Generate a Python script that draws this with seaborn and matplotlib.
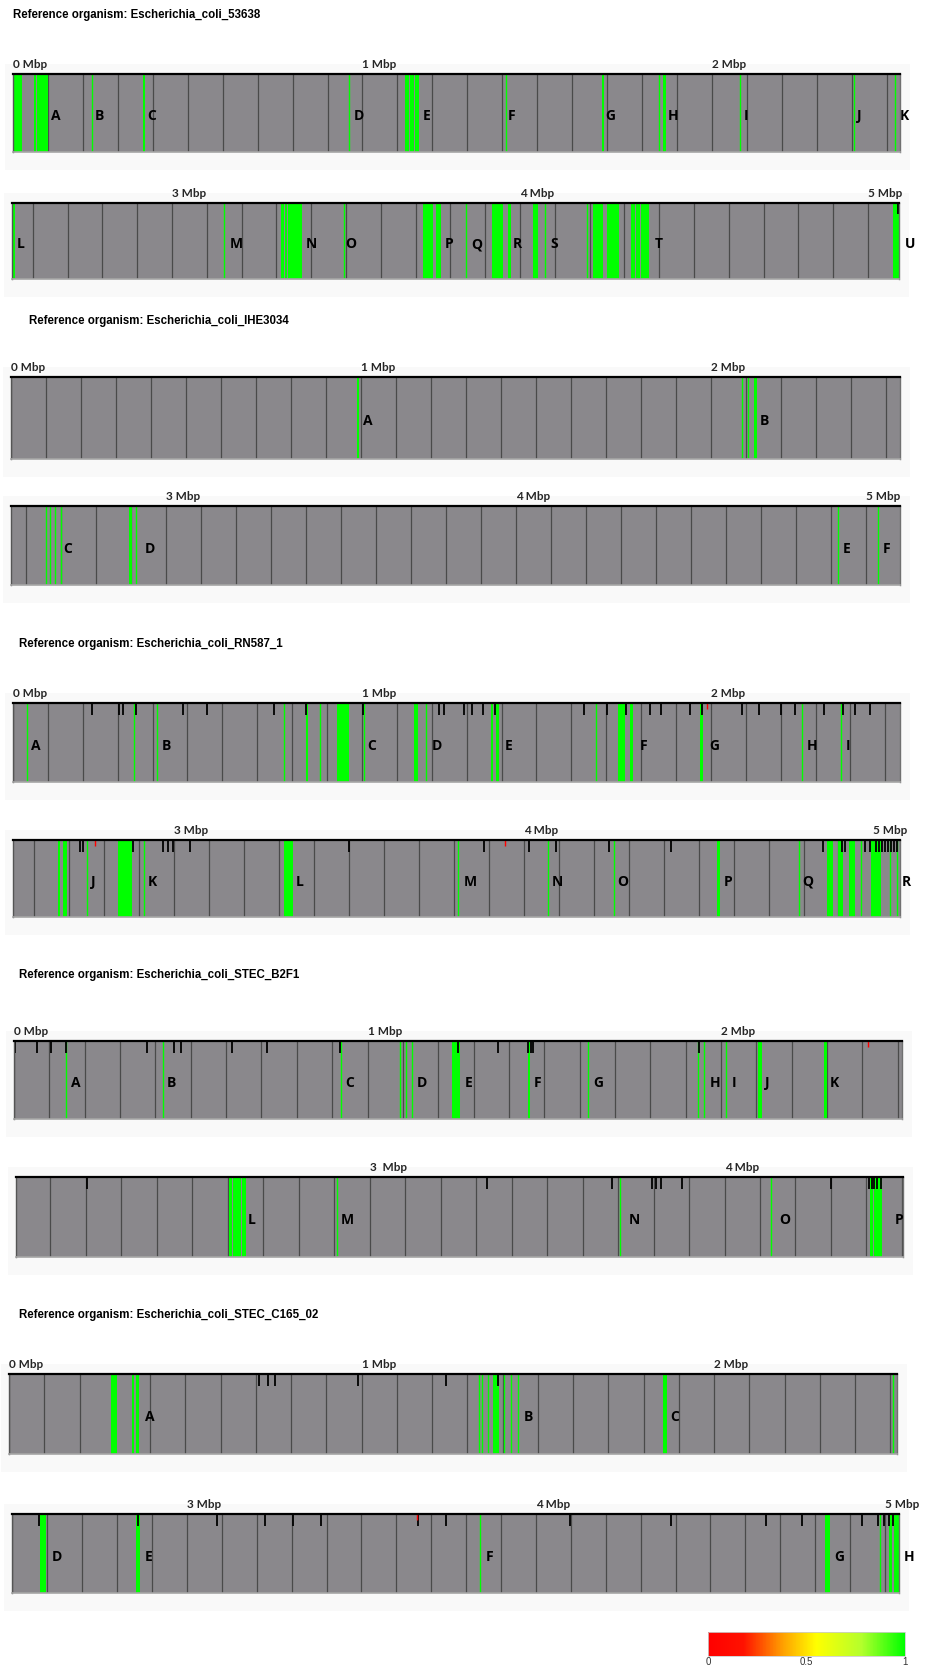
import matplotlib
matplotlib.use('Agg')
import matplotlib as mpl
import matplotlib.pyplot as plt
import seaborn as sns
from matplotlib.ticker import MultipleLocator
from matplotlib.colors import LinearSegmentedColormap, Normalize
from matplotlib.patches import Rectangle

W, H = 929, 1670

# ---- data (positions in Mbp) ----
titles = ['Escherichia_coli_53638', 'Escherichia_coli_IHE3034', 'Escherichia_coli_RN587_1',
		  'Escherichia_coli_STEC_B2F1', 'Escherichia_coli_STEC_C165_02']

# 53638
a1_range = (0, 2.538)
a1_ticks = [0, 1, 2]
a1_bands = [(0.001, 0.026), (0.059, 0.066), (0.069, 0.101), (0.371, 0.379), (1.122, 1.134), (1.136, 1.147),
			(1.149, 1.162), (1.685, 1.692), (1.861, 1.868)]
a1_lines = [0.225, 0.962, 1.41, 1.847, 2.08, 2.407, 2.525]
a1_letters = list('ABCDEFGHIJK')
a1_letter_pos = [0.11, 0.233, 0.385, 0.974, 1.172, 1.415, 1.696, 1.873, 2.09, 2.414, 2.536]

a2_range = (2.54, 5.089)
a2_ticks = [3, 4, 5]
a2_bands = [(2.543, 2.549), (3.312, 3.322), (3.325, 3.330), (3.333, 3.374), (3.722, 3.751), (3.759, 3.772),
			(3.92, 3.952), (3.965, 3.973), (4.038, 4.052), (4.209, 4.238), (4.249, 4.283), (4.319, 4.33),
			(4.333, 4.345), (4.348, 4.372), (5.073, 5.088)]
a2_lines = [3.148, 3.495, 3.845, 4.073, 4.193]
a2_letters = list('LMNOPQRSTU')
a2_letter_pos = [2.554, 3.167, 3.385, 3.497, 3.784, 3.861, 3.98, 4.088, 4.386, 5.105]

# IHE3034
b1_range = (0, 2.54)
b1_ticks = [0, 1, 2]
b1_bands = [(0.988, 0.994), (2.122, 2.131)]
b1_lines = [2.09, 2.105]
b1_letters = ['A', 'B']
b1_letter_pos = [1.006, 2.14]

b2_range = (2.557, 5.097)
b2_ticks = [3, 4, 5]
b2_bands = [(2.893, 2.903)]
b2_lines = [2.656, 2.669, 2.684, 2.699, 2.914, 4.921, 5.034]
b2_letters = ['C', 'D', 'E', 'F']
b2_letter_pos = [2.705, 2.94, 4.934, 5.049]

# RN587_1
c1_range = (0, 2.542)
c1_ticks = [0, 1, 2]
c1_bands = [(0.839, 0.846), (0.929, 0.963), (1.148, 1.161), (1.369, 1.376), (1.384, 1.392), (1.734, 1.754),
			(1.768, 1.777), (1.970, 1.976)]
c1_lines = [0.039, 0.347, 0.412, 0.776, 0.881, 1.007, 1.185, 1.672, 2.26, 2.372]
c1_letters = list('ABCDEFGHI')
c1_letter_pos = [0.052, 0.426, 1.016, 1.2, 1.408, 1.797, 1.995, 2.276, 2.387]
c1_marks = [0.0, 0.226, 0.305, 0.316, 0.352, 0.486, 0.557, 0.749, 0.84, 1.004, 1.222, 1.235, 1.292, 1.314,
			1.346, 1.381, 1.636, 1.703, 1.756, 1.825, 1.858, 1.94, 1.974, 2.088, 2.138, 2.2, 2.241, 2.325,
			2.379, 2.414, 2.456]
c1_red = [1.99]

c2_range = (2.539, 5.076)
c2_ticks = [3, 4, 5]
c2_bands = [(2.669, 2.674), (2.683, 2.693), (2.838, 2.879), (3.313, 3.340), (4.552, 4.562), (4.867, 4.883),
			(4.900, 4.914), (4.929, 4.948), (4.993, 5.021)]
c2_lines = [2.75, 2.915, 3.813, 4.07, 4.259, 4.786, 4.965, 5.048, 5.067]
c2_letters = list('JKLMNOPQR')
c2_letter_pos = [2.762, 2.925, 3.349, 3.828, 4.08, 4.268, 4.571, 4.795, 5.081]
c2_marks = [2.731, 2.738, 2.882, 2.969, 2.983, 2.996, 3.044, 3.499, 3.885, 4.016, 4.093, 4.245, 4.421,
			4.857, 4.91, 4.919, 4.977, 4.989, 5.006, 5.015, 5.025, 5.033, 5.042, 5.05, 5.058, 5.066]
c2_red = [2.773, 3.947]

# STEC_B2F1
d1_range = (0, 2.512)
d1_ticks = [0, 1, 2]
d1_bands = [(1.240, 1.262), (1.454, 1.461), (2.104, 2.115), (2.292, 2.299)]
d1_lines = [0.148, 0.422, 0.924, 1.091, 1.108, 1.127, 1.623, 1.935, 1.952, 2.014]
d1_letters = list('ABCDEFGHIJK')
d1_letter_pos = [0.162, 0.431, 0.936, 1.14, 1.275, 1.47, 1.638, 1.969, 2.03, 2.124, 2.308]
d1_marks = [0.002, 0.065, 0.104, 0.148, 0.375, 0.454, 0.472, 0.617, 0.717, 0.922, 1.255, 1.368, 1.455,
			1.462, 1.467, 1.937]
d1_red = [2.417]

d2_range = (2.003, 4.503)
d2_ticks = [3, 4]
d2_bands = [(2.604, 2.612), (2.616, 2.636), (2.639, 2.65), (4.41, 4.418), (4.422, 4.444)]
d2_lines = [2.907, 3.705, 4.13]
d2_letters = list('LMNOP')
d2_letter_pos = [2.657, 2.919, 3.73, 4.153, 4.48]
d2_marks = [2.204, 3.33, 3.682, 3.796, 3.808, 3.82, 3.88, 4.3, 4.408, 4.415, 4.422, 4.43, 4.44]

# STEC_C165_02
e1_range = (0, 2.519)
e1_ticks = [0, 1, 2]
e1_bands = [(0.289, 0.307), (0.349, 0.355), (0.360, 0.370), (1.374, 1.389), (1.854, 1.867)]
e1_lines = [1.334, 1.343, 1.359, 1.404, 1.425, 1.443, 2.507]
e1_letters = ['A', 'B', 'C']
e1_letter_pos = [0.386, 1.461, 1.875]
e1_marks = [0.709, 0.736, 0.754, 0.99, 1.241, 1.386]

e2_range = (2.499, 5.04)
e2_ticks = [3, 4, 5]
e2_bands = [(2.580, 2.597), (2.855, 2.865), (4.829, 4.841), (5.012, 5.02), (5.025, 5.039)]
e2_lines = [3.839, 4.985]
e2_letters = list('DEFGH')
e2_letter_pos = [2.613, 2.88, 3.856, 4.854, 5.053]
e2_marks = [2.575, 2.86, 3.087, 3.225, 3.303, 3.383, 3.661, 3.741, 4.097, 4.387, 4.659, 4.761, 4.934,
			4.981, 4.997, 5.01, 5.024]
e2_red = [3.658]

cbar_ticks = [0, 0.5, 1]
cbar_labels = ['0', '0.5', '1']

cmap = LinearSegmentedColormap.from_list('identity', [(0, '#ff0000'), (0.18, '#ff1200'), (0.38, '#ffa000'),
	(0.55, '#ffff00'), (0.78, '#b4ff2c'), (1, '#00ff00')])


def draw_strip(fig, box, xlim, ticks, bands, lines, letters, letter_pos, marks=[], red=[], ticklabels=None):
	x0, x1, y0, y1 = box
	fig.patches.append(Rectangle(((x0 - 8) / W, 1 - (y1 + 18) / H), (x1 - x0 + 18) / W, (y1 - y0 + 28) / H,
		transform=fig.transFigure, facecolor='#f9f9f9', edgecolor='none', zorder=-5))
	ax = fig.add_axes([x0 / W, 1 - y1 / H, (x1 - x0) / W, (y1 - y0) / H])
	ax.set_zorder(2)
	ax.set_facecolor('#8a888c')
	ax.set_xlim(xlim)
	ax.set_ylim(0, 1)
	ax.xaxis.set_minor_locator(MultipleLocator(0.1))
	ax.set_xticks(ticks)
	if ticklabels is None:
		ticklabels = ['%d Mbp' % t for t in ticks]
	ax.set_xticklabels(ticklabels, ha='left', fontsize=8.5, fontweight='bold', family='Lato')
	ax.tick_params(axis='x', which='both', top=True, bottom=False, labeltop=True, labelbottom=False,
				   length=0, pad=3)
	ax.set_yticks([])
	ax.grid(axis='x', which='both', color='#4a4a4a', lw=0.9)
	ax.set_axisbelow(True)

	green = cmap(1.0)
	if bands:
		ax.bar([b[0] for b in bands], 1, width=[b[1] - b[0] for b in bands], align='edge', color=green, lw=0)
	if lines:
		sns.rugplot(x=lines, height=1, color=green, lw=1.4, ax=ax, expand_margins=False)
	if marks:
		ax.vlines(marks, 0.85, 1, color='black', lw=1.3)
	if red:
		ax.vlines(red, 0.92, 1, color='red', lw=1.0)
	for l, p in zip(letters, letter_pos):
		ax.text(p, 0.46, l, ha='left', va='center', fontsize=10, fontweight='bold', family='Open Sans',
				color='black')

	ax.spines['top'].set_color('black')
	ax.spines['top'].set_linewidth(1.6)
	ax.spines['bottom'].set_color('#a5a5a5')
	ax.spines['bottom'].set_linewidth(1.2)
	ax.spines['left'].set_color('#555555')
	ax.spines['left'].set_linewidth(1)
	ax.spines['right'].set_color('#707070')
	ax.spines['right'].set_linewidth(1)
	return ax


def myplot():
	sns.set_theme(style='white')
	plt.rcParams['font.family'] = ['Liberation Sans', 'DejaVu Sans']
	fig = plt.figure(figsize=(W / 100, H / 100), dpi=100)

	title_pos = [(13, 15), (29, 321), (19, 644), (19, 975), (19, 1315)]
	for name, (tx, ty) in zip(titles, title_pos):
		fig.text(tx / W, 1 - ty / H, 'Reference organism: ' + name, ha='left', va='center',
				 fontsize=8.3, fontweight='bold', color='black')

	draw_strip(fig, (13, 900, 74, 152), a1_range, a1_ticks, a1_bands, a1_lines, a1_letters, a1_letter_pos)
	draw_strip(fig, (12, 899, 203, 279), a2_range, a2_ticks, a2_bands, a2_lines, a2_letters, a2_letter_pos,
			   marks=[5.086])
	draw_strip(fig, (11, 900, 377, 459), b1_range, b1_ticks, b1_bands, b1_lines, b1_letters, b1_letter_pos)
	draw_strip(fig, (11, 900, 506, 585), b2_range, b2_ticks, b2_bands, b2_lines, b2_letters, b2_letter_pos)
	draw_strip(fig, (13, 900, 703, 782), c1_range, c1_ticks, c1_bands, c1_lines, c1_letters, c1_letter_pos,
			   marks=c1_marks, red=c1_red)
	draw_strip(fig, (13, 900, 840, 917), c2_range, c2_ticks, c2_bands, c2_lines, c2_letters, c2_letter_pos,
			   marks=c2_marks, red=c2_red)
	draw_strip(fig, (14, 902, 1041, 1119), d1_range, d1_ticks, d1_bands, d1_lines, d1_letters, d1_letter_pos,
			   marks=d1_marks, red=d1_red)
	draw_strip(fig, (16, 903, 1177, 1257), d2_range, d2_ticks, d2_bands, d2_lines, d2_letters, d2_letter_pos,
			   marks=d2_marks, ticklabels=['3  Mbp', '4 Mbp'])
	draw_strip(fig, (9, 897, 1374, 1454), e1_range, e1_ticks, e1_bands, e1_lines, e1_letters, e1_letter_pos,
			   marks=e1_marks)
	draw_strip(fig, (12, 899, 1514, 1593), e2_range, e2_ticks, e2_bands, e2_lines, e2_letters, e2_letter_pos,
			   marks=e2_marks, red=e2_red)

	# identity colour scale
	cax = fig.add_axes([708 / W, 1 - 1656 / H, 197 / W, 24 / H])
	sm = mpl.cm.ScalarMappable(norm=Normalize(0, 1), cmap=cmap)
	cb = fig.colorbar(sm, cax=cax, orientation='horizontal', ticks=cbar_ticks)
	cb.ax.set_xticklabels(cbar_labels)
	cb.ax.tick_params(length=0, labelsize=7, pad=1, colors='#333333')
	cb.outline.set_edgecolor('#cccccc')
	cb.outline.set_linewidth(0.6)

	plt.savefig('out.png', dpi=100, facecolor='white')


myplot()
